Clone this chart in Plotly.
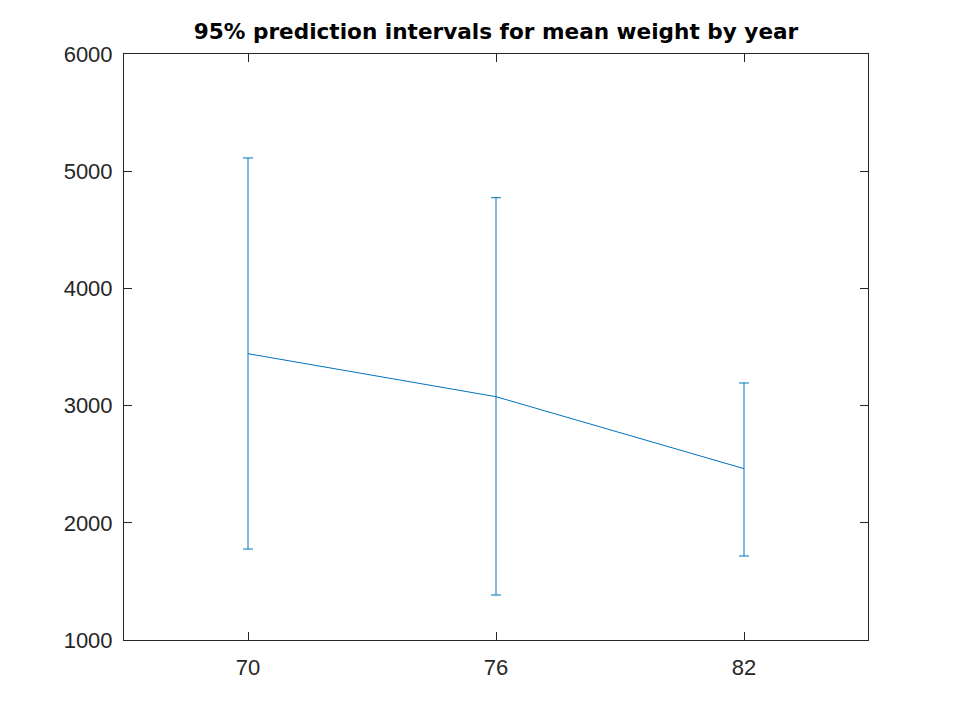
import plotly.graph_objects as go

# years and the predicted mean weight with 95% interval bounds
years = [70, 76, 82]
mean_weight = [3443, 3076, 2462]
upper_bound = [5113, 4774, 3193]
lower_bound = [1776, 1384, 1717]
y_ticks = [1000, 2000, 3000, 4000, 5000, 6000]

err_plus = [u - m for u, m in zip(upper_bound, mean_weight)]
err_minus = [m - l for m, l in zip(mean_weight, lower_bound)]

line_color = '#0072BD'
axis_color = '#262626'
font_family = 'Liberation Sans, Arial, sans-serif'

fig = go.Figure()
fig.add_trace(go.Scatter(
    x=years, y=mean_weight, mode='lines',
    line=dict(color=line_color, width=1),
    error_y=dict(type='data', symmetric=False, array=err_plus, arrayminus=err_minus,
                 color=line_color, thickness=1, width=5),
    showlegend=False,
))

axis_style = dict(
    showgrid=False, zeroline=False, showline=True, linecolor=axis_color, linewidth=1,
    mirror='ticks', ticks='inside', ticklen=8, tickcolor=axis_color,
    tickfont=dict(family=font_family, size=22, color=axis_color),
)

fig.update_xaxes(range=[67, 85], tickvals=years, ticktext=[str(y) for y in years],
                 ticklabelstandoff=8, **axis_style)
fig.update_yaxes(range=[1000, 6000], tickvals=y_ticks, ticklabelstandoff=6, **axis_style)

fig.update_layout(
    width=960, height=720,
    margin=dict(l=116, r=100, t=46, b=88),
    paper_bgcolor='white', plot_bgcolor='white',
    title=dict(text='<b>95% prediction intervals for mean weight by year</b>',
               x=0.5, xanchor='center', xref='paper', y=0.968, yanchor='middle',
               font=dict(family='DejaVu Sans', size=21.6, color='black')),
)

fig.write_html("out.html")
